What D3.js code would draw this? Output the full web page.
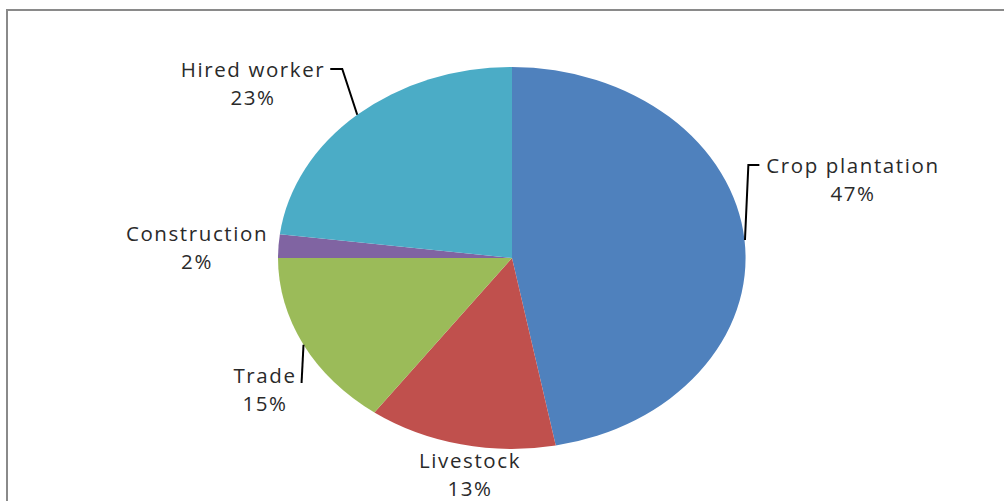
<!DOCTYPE html>
<html>
<head>
<meta charset="utf-8">
<script src="https://cdn.jsdelivr.net/npm/d3@7"></script>
<style>
  body { margin: 0; background: #fff; }
  svg { display: block; }
  .lbl { font-family: "Open Sans", sans-serif; font-size: 20.5px; letter-spacing: 1.6px; fill: #2a2a2a; }
</style>
</head>
<body>
<div id="chart"></div>
<script>
// data: share of household income by source (%)
var categories = ["Crop plantation", "Livestock", "Trade", "Construction", "Hired worker"];
var shares = [47, 13, 15, 2, 23];
var colors = ["#4F81BD", "#C0504D", "#9BBB59", "#8064A2", "#4BACC6"];

// canvas
var width = 1004, height = 501;
var cx = 512, cy = 258, rx = 234, ry = 191;

// label placement (offset from pie centre, first line baseline) and leader style
var labelLayout = {
  "Crop plantation": {dx: 341, dy: -85, leader: "left", run: 11},
  "Livestock": {dx: -42, dy: 210, leader: null},
  "Trade": {dx: -247, dy: 125, leader: "right", run: 0},
  "Construction": {dx: -315, dy: -17, leader: null},
  "Hired worker": {dx: -259, dy: -181, leader: "right", run: 12}
};

var svg = d3.select("#chart").append("svg")
  .attr("width", width)
  .attr("height", height);

// chart frame (only top and left edges fall inside the picture)
svg.append("rect")
  .attr("x", 7)
  .attr("y", 10)
  .attr("width", width + 20)
  .attr("height", height + 20)
  .style("fill", "none")
  .style("stroke", "#8a8a8a")
  .style("stroke-width", 2);

var data = categories.map(function(c, i) {
  return {name: c, value: shares[i], color: colors[i]};
});

var pie = d3.pie()
  .sort(null)
  .value(function(d) { return d.value; });

var arcs = pie(data);

// unit arc, stretched into an ellipse
var arc = d3.arc().innerRadius(0).outerRadius(1);

var g = svg.append("g")
  .attr("transform", "translate(" + cx + "," + cy + ")");

g.append("g")
  .attr("transform", "scale(" + rx + "," + ry + ")")
  .selectAll("path")
  .data(arcs)
  .enter().append("path")
  .attr("d", arc)
  .style("fill", function(d) { return d.data.color; });

function edgePoint(d) {
  var a = (d.startAngle + d.endAngle) / 2;
  return [Math.sin(a) * rx, -Math.cos(a) * ry];
}

// labels
var labels = g.selectAll(".lbl")
  .data(arcs)
  .enter().append("text")
  .attr("class", "lbl")
  .attr("text-anchor", "middle")
  .attr("x", function(d) { return labelLayout[d.data.name].dx; })
  .attr("y", function(d) { return labelLayout[d.data.name].dy; });

labels.append("tspan")
  .attr("x", function(d) { return labelLayout[d.data.name].dx; })
  .text(function(d) { return d.data.name; });

labels.append("tspan")
  .attr("x", function(d) { return labelLayout[d.data.name].dx; })
  .attr("dy", 28)
  .text(function(d) { return d.data.value + "%"; });

// leader lines
labels.each(function(d) {
  var lay = labelLayout[d.data.name];
  if (!lay.leader) return;
  var first = this.firstChild.getBBox();
  var e = edgePoint(d);
  var pts;
  if (lay.leader === "right") {
    var x0 = first.x + first.width + 5;
    var y0 = lay.run ? first.y + first.height / 2 : lay.dy;
    pts = [[x0, y0], [x0 + lay.run, y0], e];
  } else {
    var x1 = first.x - 7;
    var y1 = first.y + first.height / 2;
    pts = [[x1, y1], [x1 - lay.run, y1], e];
  }
  g.append("path")
    .attr("d", d3.line()(pts))
    .style("fill", "none")
    .style("stroke", "#000")
    .style("stroke-width", 2);
});
</script>
</body>
</html>
